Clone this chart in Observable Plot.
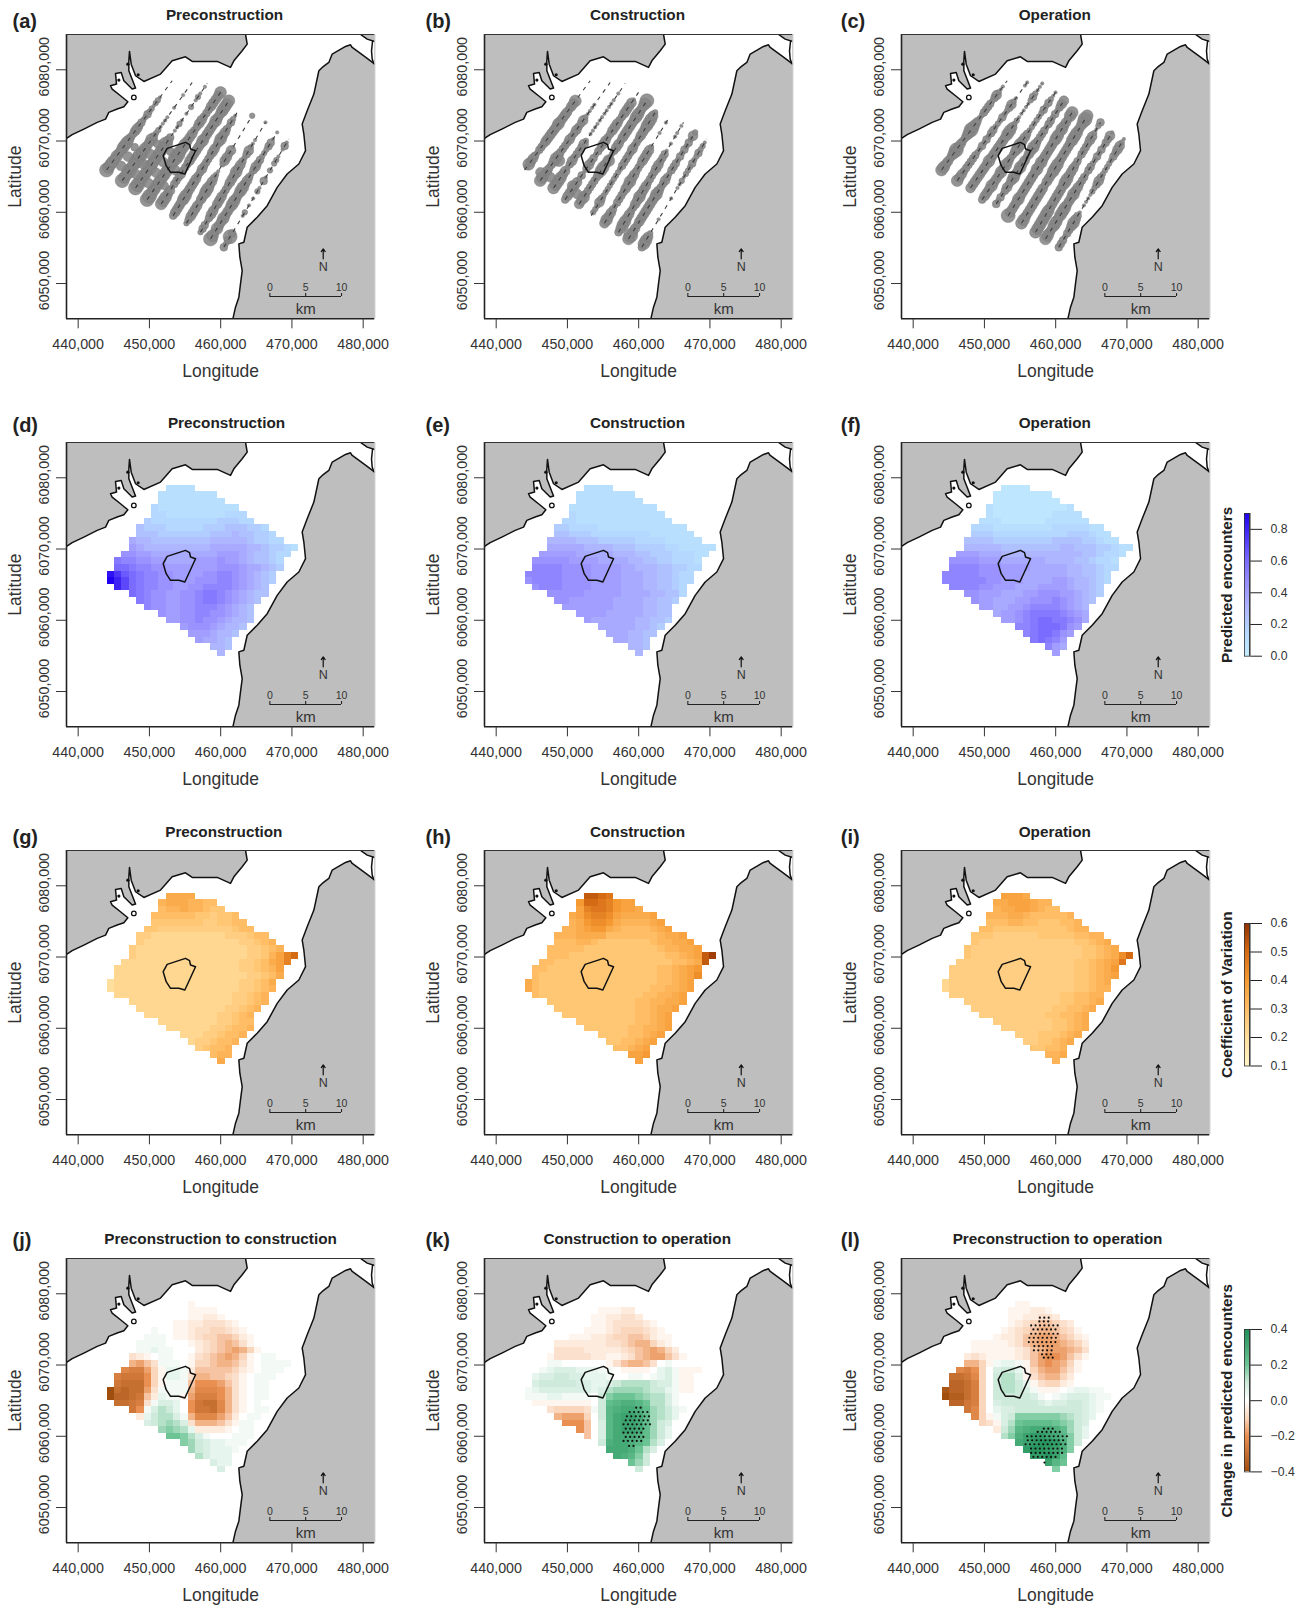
<!DOCTYPE html>
<html><head><meta charset="utf-8">
<script src="https://cdn.jsdelivr.net/npm/d3@7"></script>
<script src="https://cdn.jsdelivr.net/npm/@observablehq/plot@0.6"></script>
<style>
html,body{margin:0;padding:0;background:#fff;overflow:hidden}
#page{position:relative;width:1301px;height:1606px;overflow:hidden;background:#fff}
.pane{position:absolute;overflow:visible}
svg{display:block}
</style></head><body><div id="page"></div>
<script>
// tick values (km; labels are shown in metres)
const xTicks=[440,450,460,470,480];
const yTicks=[6050,6060,6070,6080];
const xDomain=[438.36,481.63], yDomain=[6045.05,6084.95];

// land and coast (lon km, lat km)
const westCoast=[[438.36,6070.37],[439.16,6070.89],[440.8,6071.68],[442.67,6072.62],[443.84,6073.08],[444.3,6074.02],[445.47,6074.49],[446.41,6074.81],[446.97,6075.51],[445.94,6076.36],[444.77,6077.29],[444.54,6077.76],[445.38,6077.99],[445.24,6079.49],[446.04,6079.63],[446.41,6078.46],[447.58,6077.29],[448.05,6077.43],[447.11,6079.86],[447.11,6081.26],[447.2,6082.57],[447.44,6080.79],[448.05,6079.16],[449.22,6078.36],[451.56,6079.39],[453.19,6081.26],[455.06,6081.82],[456,6081.17],[459.51,6081.17],[461.38,6080.33],[461.85,6081.26],[463.02,6082.66],[463.72,6083.6],[463.49,6084.95]];
const eastCoast=[[461.71,6045.05],[462.08,6046.68],[462.55,6048.08],[462.78,6049.95],[463.02,6051.82],[462.69,6053.69],[462.55,6055.56],[463.25,6055.79],[463.72,6057.9],[465.12,6059.3],[466.53,6060.93],[467.93,6063.5],[469.33,6065.37],[470.97,6066.78],[471.91,6068.64],[471.67,6070.98],[471.44,6072.38],[472.14,6074.25],[473.08,6076.59],[473.78,6079.86],[474.25,6080.33],[475.18,6081.03],[475.65,6082.2],[477.52,6083.27],[478.22,6083.5],[478.46,6083.13],[480.09,6081.96],[481.63,6080.79]];
const cornerCoast=[[479.63,6084.95],[480.56,6084.3],[481.63,6083.97]];
const bayLine=[[481.31,6083.97],[481.17,6082.66],[481.26,6081.5],[481.5,6080.89]];
const islets=[[445.71,6078.55],[446.97,6080.79],[448.42,6079.3]];
const islandRing=[[447.81,6076.12]];
const windFarm=[[451.93,6067.94],[452.49,6068.97],[455.06,6069.81],[455.63,6069.49],[455.77,6068.88],[456.47,6068.64],[454.97,6065.37],[454.13,6065.61],[452.96,6065.61],[452.35,6066.54],[451.93,6067.94]];

// survey transects: start and end (lon, lat)
const transects=[[443.98,6065.93,453.19,6078.46],[446.18,6064.44,456,6078.22],[448.05,6063.41,458.11,6078.08],[449.68,6061.78,459.98,6076.82],[451.65,6061.17,461.15,6075.65],[453.33,6059.53,462.32,6074.02],[455.2,6058.46,464.42,6073.55],[457.17,6057.2,466.29,6072.62],[458.57,6056.26,467.93,6071.21],[460.44,6055.09,469.57,6070.28]];
// encounter bubble size along each transect, south-west to north-east
const bubblesA=["766656556665445544334332332110101","76676677766556433222211211021101","77666676666667541223212131232121","77666666666677666555445544455556","66655344454445555556555556556666","45555665555544544445545655434321","34555545566554320355452111100103","34434554555444555655434532211112","76465565556655665543454433344212","43474111123121213214213133212421"];
const bubblesB=["13655434445555556555545561110101","66554456544445445445322221111101","66665534544445312222222222212111","45555534245443445544555445555211","55644444456654334554555555665567","13335433333333344444544455566653","56554344445565544455553111211211","45665544556555444455444212122121","67554555555556544543444343434353","46653111211111211223233343343321"];
const bubblesC=["66554567554456765433444434532211","65544444433434344333433453211122","55555555655555556653322222343222","45556555656544566554333333434322","43434545655655455654444344343455","75555655555555656555555665655466","66555555555455566655555566655676","66666665555555665554434444553234","66556656665556554443443343434452","44434456542122223345433333445532"];
// sightings between transects: [lon, lat, size]
const extraA=[[446.03,6066.5,5],[446.98,6067.82,5],[447.93,6069.13,4],[448.11,6065.35,5],[449.1,6066.77,5],[450.1,6068.19,5],[451.09,6069.61,4],[449.88,6064.08,5],[450.9,6065.56,5],[451.92,6067.05,5],[452.94,6068.54,4],[453.63,6065.9,5],[452.15,6063.69,4]];
const extraB=[[447.63,6064.9,5],[448.8,6067.24,6],[446.22,6065.6,5],[450.67,6063.74,5],[451.37,6062.57,5],[455.8,6067.24,6]];
const extraC=[];

// prediction grid: first column of each row
const rowStart=[8,7,7,6,6,5,4,4,3,3,2,1,1,0,0,1,3,4,5,7,8,10,11,12,14,15];
const gridX0=444.07, cellW=1.0346, gridY0=6078.97, cellH=0.9273;

// predicted encounters (base 36 digit, 0.05 per step)
const predD=["2222","22222222","222222222","322222222222","3322222222333","433333333344433","544433333444555443","5554444444555655443","766555555556666654433","87666666666777776654432","99887777777778887655433","baa99887777888988765543","ccbaa998888888999877654","hfdcbaa99888899aa987654","igecbaa99888999aa987654","gecbaa998899aaaa98765","cba998899abba987655","ba998899abba98765","a998899aaa98765","98899aa998765","8899a9987665","899987665","8887665","87765","665","6"];
const predE=["2222","22222222","222222222","222222222222","3222222222222","332222222222222","443333222222222222","5544433333333222222","666655544444333322222","77777666655544443322222","88888777776665544433322","99999888877776655443332","aaaa9999888877666554433","aaaaa999988887776655433","9aaaa999988887776655433","9aaa99998888777665543","9999988888777766553","99888888777766554","888888877776655","8888777776655","877777766554","777776654","7776655","77665","665","6"];
const predF=["1111","11111111","111111111","211111111112","2111111112222","222111111222222","333222222223333322","4443333333333444322","555544444444555544322","66666555555556655544322","88877766666666666554332","99998887777776666554332","aaaa9998888777776655433","aaaaa999888777777665543","aaaaaa99888777788766543","aaaa99888777888876654","9988877788999887654","98877788999a98765","8877889aaaa9876","7889abbbba987","889abccbba97","aabcccb98","abccb98","bcba8","a87","8"];

// coefficient of variation (base 36 digit, 0.1 + 0.025 per step)
const cvG=["aaaa","9aaa9988","899a99877","888888776778","7777777667788","776666666666788","665555555555666788","6555555555555566789","655555555555555566789","65555555555555556679beg","55555555555555556678abe","5555555555555555566789b","5555555555555555556678a","4555555555555555556678a","45555555555555555566789","555555555555555566789","5555555555555566789","55555555555566789","555555555566789","5555555566788","555555667889","555667889","5667889","67889","899","a"];
const cvH=["hhgf","cggfecbb","beffecbba","abdeedbaaaab","9acddca9999ab","99abcca988889ab","999aaaa88888889aab","8889987777777899aab","888887777777777899aab","8887777777777777889abhj","887777777777777777889ah","88777777777777777889abc","87777777777777777889abd","a87777777777777777889ab","a87777777777777778899ab","8777777777777778899ab","7777777777778899aab","77777777777889aab","7777777777889ab","77777777889ab","7777778899ab","7777889ab","77889ab","889ab","bbc","b"];
const cvI=["bbba","aabbba99","9aabba988","999aa9888889","8889988777889","887777777777899","777666666777778899","766666666666667789a","76666666666666667789a","76666666666666667789adg","66666666666666667789abf","666666666666666667789ac","666666666666666667789ab","5666666666666666667789a","56666666666666666677899","666666666666666778899","666666666666677889a","6666666666677889a","66666666677889a","666666667789a","66666667789a","66677789a","667789a","77889","99a","9"];

// change in predicted encounters (. zero, a-p positive, A-P negative, 0.025 per letter)
const chJ=["...A","....AAAA","....AABBA","...AABBCCCBA","a..AABCCDDCBA","aaa.AABCDDEEDBA","aaaa...ABCDEFECA..","aabaa...BCDEFGFDA..","CBA.aa..ACDEFGFDA.aa.","FGECaaa.ADDEFFECA.aaaa.","IJJGDAbbaBEEEEEDBA.aaa.","JKKKHDAbbaCFFEEDCA.aaa.","KLLLHDAaaaEHHHGECA.aa..","PLMLLGCaaaaFIIIHFCA.aa.","PMMLKEBbaaAGJJJHFCA.aa.","LLKJCaccb.HKLLIFCA.a.","KHacedb.HKKLIFCA.aa","BbdeecaFIIIGEB.aa","cdefecCFFFECAaa","fgfebBBBBA.aa","hhgeca...aaa","gfdcbbaaa","fdcbbba","ecbbb","cbb","c"];
const chK=["....","...AAABB","..AABBCCB","...AABCCCCBA","..AAABCDDDCBA",".AAABBCDDEEDBAA","BBBBBBBCCDEFFDBA..","CCCCBBBBBCDEFGFDB..","ACCCCCBBAABCEFGGECA..","aa......ACEFFEC.a......","abcccbbbaa.AAAA.bcaAAA.","bccddccbbba..aa.abcaAA.","cdddddccbbcdeeeedccaAA.","abcccccccbceffffeddbaAA","aaabbaaaa.dghhhgfeeca..","AAAAAAAA.dijkkjheeca.","CDDDDCadjkllkifedba","FGGGD.djlmmlifedb","HHHE.cjlmmlifdc","HE.cjlmmlifdb","E.cjlllkifdb","dkllkjhec","lllkhec","lkjgd","hfd","d"];
const chL=["..AA","..AAABBA","..AABBCCB","...ABCDEEDCB","..ABCDEFFEDCA","..ABBCEFGGFEDBA","AAAAABCEFGGGFEDB..","AAAAAABCEFGGGFEC...","BCBAAAABCEGHHGECA....","FFDAabbaAEGHGFDA.......","IJHD.cddbADFGGECA......","LLKID.deecACEFFDB......","MMLJD.deedbACDDBA......","OMMLJD.deedcaAAA.abbaa.","PNNLJD.dddddca.abcccbaa","MMKJD.cdddddcbccddcba","KID.bccdddddddddcba","IDAacdggggggfedcb","DCAcehiiiihgfdc","Bdfjklllkifdb","egkmnnmljgdb","lmnoonkgd","noonmkg","nnomi","mjh","g"];

// significance stippling: [lat, lon from, lon to]
const stippleK=[[6064.02,459.65,460.44],[6063.41,458.43,461.61],[6062.8,458.34,461.61],[6062.24,457.87,461.61],[6061.68,457.87,461.61],[6061.07,457.87,460.91],[6060.51,457.87,460.91],[6059.91,457.87,460.91],[6059.35,457.87,460.44],[6058.64,458.34,459.74]];
const stippleL=[[6076.64,457.78,459.18],[6076.12,457.4,459.5],[6075.56,456.56,460.44],[6075,456.56,460.44],[6074.39,456.56,460.44],[6073.83,456,460.44],[6073.22,456.23,460.44],[6072.66,456.7,459.98],[6072.06,456.94,459.98],[6071.5,457.78,459.74],[6071.03,458.34,459.74],[6070.56,459.04,459.1],[6061.07,458.34,459.74],[6060.61,457.17,460.91],[6060,456,461.61],[6059.44,455.77,461.61],[6058.88,455.77,461.61],[6058.27,456.23,461.38],[6057.66,456.56,460.91],[6057.1,456.56,460.44],[6056.31,458.43,458.81]];

// panel layout
const colLeft=[66,484,900.7], rowTop=[33.7,442.3,850,1258];
const frameW=308.3, frameH=284.3;
const titleCx=[[224,637,1054],[226,637,1054],[223.3,637,1054],[220,636.7,1056.7]];
const titleDy=[-25.7,-25,-24,-25], letterDy=[-21,-24.6,-20.7,-26];
const letterX=[12,425,840];
// radius in px for each bubble size digit
const bubbleR=[0,0,1.7,2.8,3.9,4.9,5.9,7];

const blue={type:"linear",domain:[0,.15,.3,.45,.6,.9],range:["#c4edff","#b4d8ff","#aeb6ff","#9a92ff","#7a6cff","#1f00f0"]};
const orange={type:"linear",domain:[.1,.2,.3,.4,.5,.6],range:["#fff5c8","#ffdf9e","#ffbd66","#f59a32","#d56a14","#8e3000"]};
const change={type:"linear",domain:[-.4,-.2,-.1,0,.1,.2,.4],range:["#a04e0e","#e98f52","#fad6bc","#ffffff","#cdeada","#6cc494","#1f8f58"]};

const decBlue=c=>parseInt(c,36)*.05;
const decCv=c=>.1+parseInt(c,36)*.025;
const decCh=c=>c==="."?0:(c>="a"?(c.charCodeAt(0)-96)*.025:-(c.charCodeAt(0)-64)*.025);

const cells=(rows,dec)=>rows.flatMap((s,r)=>[...s].map((ch,i)=>{
  const c=rowStart[r]+i;
  return {x1:gridX0+c*cellW,x2:gridX0+(c+1)*cellW,y1:gridY0-r*cellH,y2:gridY0-(r+1)*cellH,v:dec(ch)};
}));
const bubbleDots=(strs,extra)=>strs.flatMap((s,t)=>{
  const [a,b,c,d]=transects[t];
  return [...s].map((ch,i)=>({x:a+(c-a)*i/(s.length-1),y:b+(d-b)*i/(s.length-1),r:bubbleR[+ch]})).filter(p=>p.r>0);
}).concat(extra.map(([x,y,s])=>({x,y,r:bubbleR[s]})));
const stippleDots=rows=>rows.flatMap(([lat,l0,l1],i)=>d3.range(l0+(i%2?.31:0),l1+.01,.62).map(x=>({x,y:lat})));

const panels=[
 {l:"(a)",t:"Preconstruction",b:bubblesA,e:extraA},{l:"(b)",t:"Construction",b:bubblesB,e:extraB},{l:"(c)",t:"Operation",b:bubblesC,e:extraC},
 {l:"(d)",t:"Preconstruction",h:predD,d:decBlue,s:blue},{l:"(e)",t:"Construction",h:predE,d:decBlue,s:blue},{l:"(f)",t:"Operation",h:predF,d:decBlue,s:blue},
 {l:"(g)",t:"Preconstruction",h:cvG,d:decCv,s:orange},{l:"(h)",t:"Construction",h:cvH,d:decCv,s:orange},{l:"(i)",t:"Operation",h:cvI,d:decCv,s:orange},
 {l:"(j)",t:"Preconstruction to construction",h:chJ,d:decCh,s:change},{l:"(k)",t:"Construction to operation",h:chK,d:decCh,s:change,p:stippleK},{l:"(l)",t:"Preconstruction to operation",h:chL,d:decCh,s:change,p:stippleL}
];

const page=document.getElementById("page");
const ink="#333";
const pt=a=>({x:d=>d[0],y:d=>d[1],...a});
const FONT="'Liberation Sans',Arial,sans-serif";

panels.forEach((P,idx)=>{
  const col=idx%3,row=Math.floor(idx/3);
  const marks=[
    Plot.line(westCoast.concat([[463.49,6084.95],[438.36,6084.95]]),pt({fill:"#bebebe",stroke:"none",clip:true})),
    Plot.line(eastCoast.concat([[481.63,6045.05],[461.71,6045.05]]),pt({fill:"#bebebe",stroke:"none",clip:true})),
    Plot.line(cornerCoast.concat([[481.63,6084.95]]),pt({fill:"#bebebe",stroke:"none",clip:true})),
  ];
  if(P.h) marks.push(Plot.rect(cells(P.h,P.d),{x1:"x1",x2:"x2",y1:"y1",y2:"y2",fill:"v",inset:0,shapeRendering:"crispEdges"}));
  if(P.b){
    marks.push(Plot.dot(bubbleDots(P.b,P.e),{x:"x",y:"y",r:"r",fill:"#858585",stroke:"#7a7a7a",strokeWidth:.5,fillOpacity:.88}));
    marks.push(Plot.link(transects,{x1:d=>d[0],y1:d=>d[1],x2:d=>d[2],y2:d=>d[3],stroke:"#3c3c3c",strokeWidth:1.1,strokeDasharray:"4,5"}));
  }
  if(P.p) marks.push(Plot.dot(stippleDots(P.p),{x:"x",y:"y",r:1.1,fill:"#111"}));
  for(const c of [westCoast,eastCoast,cornerCoast,bayLine]) marks.push(Plot.line(c,pt({stroke:"#111",strokeWidth:1.5,clip:true})));
  marks.push(Plot.dot(islandRing,pt({r:2.3,stroke:"#111",strokeWidth:1.3,fill:"#fff"})));
  marks.push(Plot.dot(islets,pt({r:1.6,fill:"#111"})));
  marks.push(Plot.line(windFarm,pt({stroke:"#111",strokeWidth:1.5})));
  // scale bar + north arrow
  marks.push(Plot.ruleY([6048.18],{x1:466.9,x2:476.96,stroke:"#222",strokeWidth:1.2}));
  marks.push(Plot.ruleX([466.9,471.93,476.96],{y1:6048.18,y2:6048.6,stroke:"#222",strokeWidth:1.1}));
  marks.push(Plot.text(["0","5","10"],{x:(d,i)=>[466.9,471.93,476.96][i],y:6049.4,text:d=>d,fontSize:10.5,fill:ink}));
  marks.push(Plot.text(["km"],{x:471.93,y:6046.35,text:d=>d,fontSize:15,fill:ink}));
  marks.push(Plot.arrow([0],{x1:474.39,y1:6053.46,x2:474.39,y2:6054.86,stroke:"#111",strokeWidth:1.2,headLength:7,headAngle:70,bend:0}));
  marks.push(Plot.text(["N"],{x:474.39,y:6052.38,text:d=>d,fontSize:12.5,fill:ink}));
  // frame
  marks.push(Plot.ruleX([xDomain[0]],{stroke:"#222",strokeWidth:1.6}));
  marks.push(Plot.ruleY([yDomain[0]],{stroke:"#222",strokeWidth:1.6}));
  marks.push(Plot.ruleY([yDomain[1]],{stroke:"#333",strokeWidth:1.2}));
  marks.push(Plot.ruleX([xDomain[1]],{stroke:"#aaa",strokeWidth:.8}));
  // axes
  marks.push(Plot.axisX(xTicks,{anchor:"bottom",tickSize:10,tickPadding:10,fontSize:14.3,label:null,tickFormat:d=>d3.format(",")(d*1000),stroke:"#333",color:ink}));
  marks.push(Plot.axisY(yTicks,{anchor:"left",tickSize:10,label:null,tickFormat:()=>"",stroke:"#333"}));
  marks.push(Plot.text(yTicks,{y:d=>d,frameAnchor:"left",textAnchor:"middle",lineAnchor:"middle",dx:-22.5,dy:-3,rotate:-90,text:d=>d+",000",fontSize:14.3,fill:ink}));
  marks.push(Plot.text(["Longitude"],{frameAnchor:"bottom",lineAnchor:"bottom",dy:58,text:d=>d,fontSize:17.5,fill:ink}));
  marks.push(Plot.text(["Latitude"],{frameAnchor:"left",textAnchor:"middle",lineAnchor:"middle",dx:-51,rotate:-90,text:d=>d,fontSize:17.5,fill:ink}));
  marks.push(Plot.text([P.t],{frameAnchor:"top",dx:titleCx[row][col]-colLeft[col]-frameW/2,dy:titleDy[row],text:d=>d,fontSize:15.3,fontWeight:"bold",fill:"#222"}));
  marks.push(Plot.text([P.l],{frameAnchor:"top-left",textAnchor:"start",dx:letterX[col]-colLeft[col],dy:letterDy[row],text:d=>d,fontSize:20,fontWeight:"bold",fill:"#222"}));
  const svg=Plot.plot({
    width:400,height:34+frameH+66,marginLeft:66,marginRight:400-66-frameW,marginTop:34,marginBottom:66,
    style:{fontFamily:FONT,background:"transparent",overflow:"visible"},
    x:{domain:xDomain,axis:null},y:{domain:yDomain,axis:null},
    r:{type:"identity"},color:P.s||undefined,
    marks
  });
  const w=document.createElement("div");
  w.className="pane";
  w.style.left=(colLeft[col]-66)+"px";w.style.top=(rowTop[row]-34)+"px";
  w.appendChild(svg);page.appendChild(w);
});

// colour bars
const legends=[
 {title:"Predicted encounters",scale:blue,dom:[0,.9],ticks:[0,.2,.4,.6,.8],top:513.3,bottom:656},
 {title:"Coefficient of Variation",scale:orange,dom:[.1,.6],ticks:[.1,.2,.3,.4,.5,.6],top:923,bottom:1065.5},
 {title:"Change in predicted encounters",scale:change,dom:[-.4,.4],ticks:[-.4,-.2,0,.2,.4],top:1329.3,bottom:1471.7}
];
legends.forEach(L=>{
  const n=100,step=(L.dom[1]-L.dom[0])/n;
  const bins=d3.range(n).map(i=>({a:L.dom[0]+i*step,b:L.dom[0]+(i+1)*step,v:L.dom[0]+(i+.5)*step}));
  const pad=70;
  const svg=Plot.plot({
    width:80,height:(L.bottom-L.top)+2*pad,marginLeft:29,marginRight:45.7,marginTop:pad,marginBottom:pad,
    style:{fontFamily:FONT,background:"transparent"},
    x:{domain:[0,1],axis:null},y:{domain:L.dom,axis:null},color:L.scale,
    marks:[
      Plot.rect(bins,{x1:0,x2:1,y1:"a",y2:"b",fill:"v",inset:0,shapeRendering:"crispEdges"}),
      Plot.frame({stroke:"#333",strokeWidth:.8}),
      Plot.axisY(L.ticks,{anchor:"right",tickSize:11.7,tickPadding:9,fontSize:12.3,label:null,tickFormat:d3.format(".1f"),stroke:"#222",color:ink}),
      Plot.ruleX([1],{stroke:"#222",strokeWidth:1.1}),
      Plot.text([L.title],{frameAnchor:"left",textAnchor:"middle",lineAnchor:"middle",dx:-17.3,rotate:-90,text:d=>d,fontSize:15.3,fontWeight:"bold",fill:"#222"})
    ]
  });
  const w=document.createElement("div");
  w.className="pane";w.style.left="1215px";w.style.top=(L.top-pad)+"px";
  w.appendChild(svg);page.appendChild(w);
});
</script></body></html>
